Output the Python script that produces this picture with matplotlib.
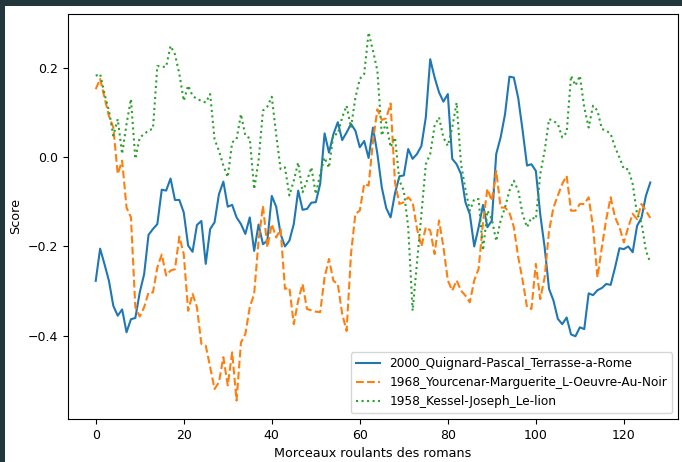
import matplotlib
matplotlib.use("Agg")
import matplotlib.pyplot as plt
from matplotlib.patches import Rectangle
import numpy as np

labels = [
    "2000_Quignard-Pascal_Terrasse-a-Rome",
    "1968_Yourcenar-Marguerite_L-Oeuvre-Au-Noir",
    "1958_Kessel-Joseph_Le-lion",
]

quignard = [
    -0.277, -0.205, -0.240, -0.277, -0.333, -0.355, -0.341, -0.392, -0.363, -0.360,
    -0.303, -0.262, -0.174, -0.161, -0.150, -0.073, -0.075, -0.048, -0.096, -0.096,
    -0.124, -0.198, -0.212, -0.152, -0.143, -0.239, -0.161, -0.146, -0.083, -0.055,
    -0.111, -0.107, -0.135, -0.150, -0.172, -0.135, -0.210, -0.151, -0.195, -0.187,
    -0.087, -0.111, -0.172, -0.200, -0.187, -0.150, -0.075, -0.118, -0.116, -0.102,
    -0.101, -0.060, 0.053, 0.010, 0.051, 0.078, 0.038, 0.055, 0.074, 0.059,
    0.022, 0.036, -0.002, 0.066, 0.007, -0.068, -0.114, -0.135, -0.081, -0.043,
    -0.041, 0.018, -0.004, 0.007, 0.025, 0.089, 0.219, 0.178, 0.145, 0.124,
    0.141, -0.004, -0.016, -0.038, -0.101, -0.128, -0.200, -0.157, -0.107, -0.157,
    -0.142, 0.007, 0.044, 0.096, 0.180, 0.178, 0.132, 0.059, -0.019, -0.016,
    -0.031, -0.128, -0.202, -0.295, -0.321, -0.362, -0.374, -0.359, -0.397, -0.401,
    -0.381, -0.385, -0.305, -0.309, -0.298, -0.293, -0.284, -0.286, -0.247, -0.204,
    -0.206, -0.200, -0.213, -0.154, -0.136, -0.087, -0.057,
]

yourcenar = [
    0.152, 0.175, 0.133, 0.092, 0.066, -0.038, -0.008, -0.113, -0.135, -0.336,
    -0.357, -0.336, -0.303, -0.303, -0.247, -0.218, -0.265, -0.254, -0.251, -0.178,
    -0.217, -0.344, -0.306, -0.336, -0.418, -0.422, -0.470, -0.519, -0.504, -0.448,
    -0.511, -0.437, -0.545, -0.415, -0.396, -0.336, -0.306, -0.187, -0.109, -0.202,
    -0.150, -0.180, -0.161, -0.295, -0.292, -0.374, -0.321, -0.284, -0.340, -0.343,
    -0.346, -0.347, -0.269, -0.228, -0.277, -0.284, -0.351, -0.389, -0.217, -0.127,
    -0.120, -0.060, -0.064, 0.036, 0.107, 0.083, 0.087, 0.120, -0.057, -0.105,
    -0.101, -0.090, -0.101, -0.160, -0.200, -0.157, -0.164, -0.217, -0.142, -0.201,
    -0.276, -0.299, -0.276, -0.299, -0.310, -0.325, -0.276, -0.250, -0.146, -0.071,
    -0.098, -0.031, -0.113, -0.113, -0.124, -0.157, -0.224, -0.276, -0.336, -0.340,
    -0.239, -0.318, -0.269, -0.165, -0.113, -0.086, -0.060, -0.042, -0.120, -0.120,
    -0.105, -0.105, -0.090, -0.157, -0.269, -0.202, -0.139, -0.090, -0.135, -0.157,
    -0.191, -0.157, -0.127, -0.139, -0.105, -0.120, -0.136,
]

kessel = [
    0.182, 0.186, 0.141, 0.104, 0.048, 0.085, 0.007, 0.074, 0.130, -0.004,
    0.044, 0.051, 0.060, 0.063, 0.204, 0.202, 0.202, 0.249, 0.230, 0.186,
    0.126, 0.160, 0.137, 0.130, 0.126, 0.122, 0.141, 0.040, 0.014, -0.019,
    -0.045, 0.033, 0.040, 0.096, 0.048, 0.042, -0.072, -0.008, 0.104, 0.113,
    0.135, 0.051, -0.027, -0.023, -0.086, -0.053, -0.012, -0.079, -0.053, -0.023,
    -0.083, -0.038, -0.001, -0.024, 0.051, 0.051, 0.089, 0.115, 0.066, 0.133,
    0.175, 0.186, 0.279, 0.238, 0.193, 0.048, 0.078, 0.022, 0.044, -0.053,
    -0.075, -0.157, -0.344, -0.236, -0.128, -0.016, 0.007, 0.070, 0.089, 0.044,
    0.025, 0.066, 0.122, -0.016, -0.072, -0.120, -0.094, -0.094, -0.209, -0.120,
    -0.139, -0.188, -0.142, -0.113, -0.075, -0.053, -0.075, -0.128, -0.157, -0.135,
    -0.139, -0.038, 0.014, 0.085, 0.081, 0.074, 0.044, 0.055, 0.182, 0.160,
    0.182, 0.111, 0.066, 0.115, 0.104, 0.063, 0.059, 0.052, 0.022, -0.001,
    -0.027, -0.027, -0.060, -0.128, -0.146, -0.209, -0.236,
]

x_label = "Morceaux roulants des romans"
y_label = "Score"

plt.rcParams["font.size"] = 9

W, H = 682, 462
fig = plt.figure(figsize=(W / 100, H / 100), dpi=100, facecolor="white")
ax = fig.add_axes([68 / W, 1 - 419 / H, (678 - 68) / W, (419 - 14) / H])

series = [quignard, yourcenar, kessel]
styles = ["-", "--", ":"]
colors = ["#1f77b4", "#ff7f0e", "#2ca02c"]
for vals, ls, c, lab in zip(series, styles, colors, labels):
    ax.plot(np.arange(len(vals)), vals, linestyle=ls, color=c, label=lab, linewidth=1.5)

ax.set_xlabel(x_label, fontsize=9.2)
ax.set_ylabel(y_label, fontsize=9.2)
ax.set_xticks([0, 20, 40, 60, 80, 100, 120])
ax.set_yticks([-0.4, -0.2, 0.0, 0.2])
ax.legend(loc="lower right", fontsize=8.7)

border = "#22373b"
fig.patches.append(Rectangle((0, 0), 5 / W, 1, transform=fig.transFigure,
                             facecolor=border, edgecolor="none", zorder=10))
fig.patches.append(Rectangle((0, 1 - 5.5 / H), 1, 5.5 / H, transform=fig.transFigure,
                             facecolor=border, edgecolor="none", zorder=10))

fig.savefig("out.png", dpi=100, facecolor="white")
